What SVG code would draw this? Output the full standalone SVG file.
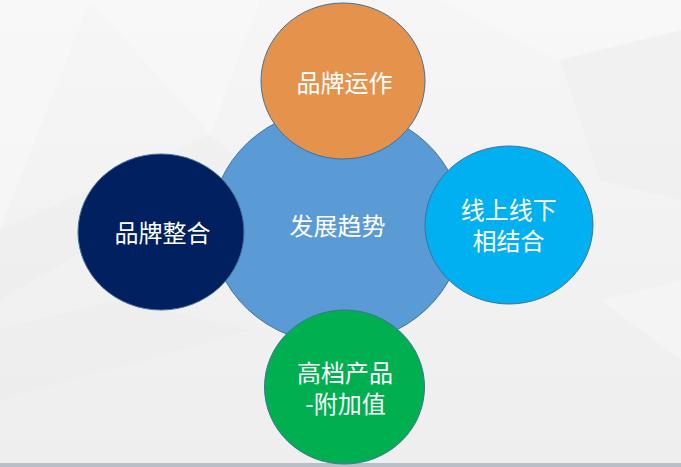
<svg xmlns="http://www.w3.org/2000/svg" width="681" height="467" viewBox="0 0 681 467">
  <defs>
    <linearGradient id="bg" x1="0" y1="0" x2="0" y2="1">
      <stop offset="0" stop-color="#F6F6F6"/>
      <stop offset="1" stop-color="#EEEEEE"/>
    </linearGradient>
    <style>
      .node { stroke: #41719C; stroke-width: 1; }
      .lbl { font-family: "Noto Sans CJK SC", "Noto Sans", sans-serif; font-size: 24px; fill: #FFFFFF; text-anchor: middle; dominant-baseline: central; }
      .facet { fill: #FFFFFF; opacity: 0.25; }
      .facet2 { fill: #E6E6E6; opacity: 0.25; }
    </style>
  </defs>

  <g id="background">
    <rect x="0" y="0" width="681" height="467" fill="url(#bg)"/>
    <polygon class="facet" points="0,0 90,0 0,230"/>
    <polygon class="facet" points="90,0 260,0 210,135"/>
    <polygon class="facet2" points="0,230 210,135 240,160 0,300"/>
    <polygon class="facet" points="440,0 681,0 681,30 560,60"/>
    <polygon class="facet2" points="560,60 681,30 681,200 600,180"/>
    <polygon class="facet2" points="0,330 120,300 250,330 0,400"/>
    <polygon class="facet" points="600,300 681,280 681,360"/>
    <rect x="0" y="463" width="681" height="4" fill="#BABEC6"/>
  </g>

  <g id="node-center">
    <ellipse class="node" cx="337" cy="226" rx="126" ry="118" fill="#5B9BD5"/>
    <text class="lbl" x="337.5" y="224">发展趋势</text>
  </g>

  <g id="node-top">
    <ellipse class="node" cx="343" cy="81" rx="82" ry="78" fill="#E5934C"/>
    <text class="lbl" x="344.5" y="81">品牌运作</text>
  </g>

  <g id="node-left">
    <ellipse class="node" cx="161" cy="232" rx="83" ry="78" fill="#002060"/>
    <text class="lbl" x="162.5" y="231">品牌整合</text>
  </g>

  <g id="node-right">
    <ellipse class="node" cx="509" cy="225" rx="84" ry="79" fill="#00B0F0"/>
    <text class="lbl"><tspan x="508.7" y="208">线上线下</tspan><tspan x="508.5" y="238.5">相结合</tspan></text>
  </g>

  <g id="node-bottom">
    <ellipse class="node" cx="344.5" cy="387" rx="80" ry="77" fill="#00B050"/>
    <text class="lbl"><tspan x="345" y="371">高档产品</tspan><tspan x="345.5" y="402">-附加值</tspan></text>
  </g>

  <g id="connectors"></g>
</svg>
